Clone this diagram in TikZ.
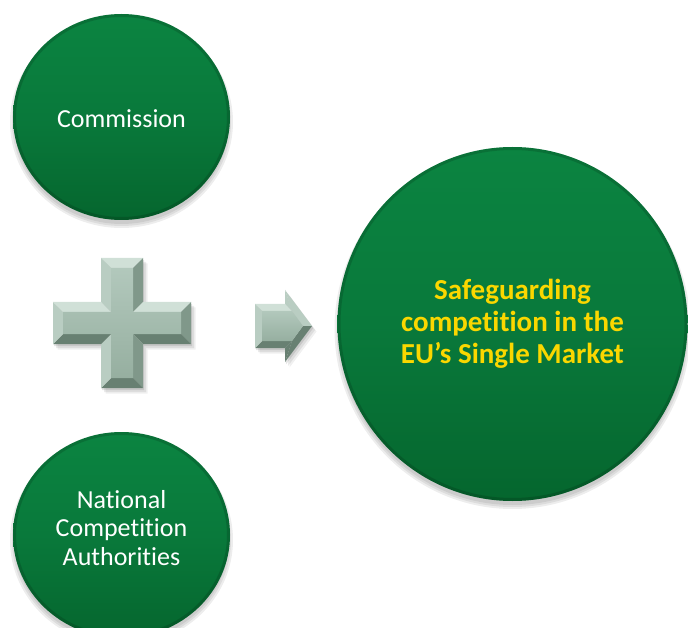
\documentclass[tikz,border=0pt]{standalone}
\usepackage{fontspec}
\setmainfont{Carlito}[Ligatures=NoCommon]
\usetikzlibrary{shapes.geometric}

\definecolor{greentop}{RGB}{11,132,65}
\definecolor{greenmid}{RGB}{9,121,59}
\definecolor{greenbot}{RGB}{5,102,46}
\definecolor{goldtext}{RGB}{250,215,0}
\definecolor{bevfacetop}{RGB}{178,200,188}
\definecolor{bevfacebot}{RGB}{150,175,160}
\definecolor{bevlight}{RGB}{208,224,215}
\definecolor{bevmlight}{RGB}{185,205,194}
\definecolor{bevmdark}{RGB}{128,152,138}
\definecolor{bevdark}{RGB}{104,128,114}

\tikzset{
  disc/.style={ellipse, inner sep=0pt, draw=none,
    top color=greentop, bottom color=greenbot, middle color=greenmid,
    align=center},
  smalldisc/.style={disc, minimum width=217pt, minimum height=206pt},
  bigdisc/.style={disc, minimum width=350pt, minimum height=354pt,
    text=goldtext, font=\bfseries\fontsize{29}{32}\selectfont},
  disclabel/.style={align=center, inner sep=0pt, text=white,
    font=\fontsize{26}{28.5}\selectfont},
  rim/.style={draw=black, opacity=0.14, line width=3pt},
  dropshade/.style={fill=black, opacity=0.07},
  facetlight/.style={fill=bevlight},
  facetmlight/.style={fill=bevmlight},
  facetmdark/.style={fill=bevmdark},
  facetdark/.style={fill=bevdark},
  flatface/.style={top color=bevfacetop, bottom color=bevfacebot},
}

\begin{document}
\begin{tikzpicture}[x=1pt,y=-1pt]
\useasboundingbox (0,0) rectangle (688,628);

% soft shadows under the three discs
\foreach \cx/\cy/\rx/\ry in {121.5/117/108.5/103, 121.5/535/108.5/103, 512.5/324/175/177}{
  \foreach \d in {0,2,4}{
    \fill[dropshade] (\cx,\cy+5) ellipse [x radius=\rx+\d-1, y radius=\ry+\d-1];
  }
}

% discs
\node[smalldisc] (comm) at (121.5,117) {};
\node[smalldisc] (nca) at (121.5,535) {};
\node[bigdisc] (goal) at (512.5,324) {Safeguarding\\competition in the\\EU’s Single Market};

% bevelled rims
\draw[rim] (comm.center) ellipse [x radius=107, y radius=101.5];
\draw[rim] (nca.center) ellipse [x radius=107, y radius=101.5];
\draw[rim] (goal.center) ellipse [x radius=173.5, y radius=175.5];

% disc labels
\node[disclabel] (commlabel) at ([yshift=-2pt]comm.center) {Commission};
\node[disclabel] (ncalabel) at ([yshift=7pt]nca.center) {National\\Competition\\Authorities};

% bevelled plus sign
\begin{scope}[shift={(122,323)}]
  \def\w{21}\def\H{65}\def\L{69}\def\b{10}
  \foreach \s/\o in {1.2/0.10, 3/0.08, 4.5/0.06}{
    \fill[black, opacity=\o, shift={(\s,\s+1)}]
      (-\w,-\H) -- (\w,-\H) -- (\w,-\w) -- (\L,-\w) -- (\L,\w) -- (\w,\w)
      -- (\w,\H) -- (-\w,\H) -- (-\w,\w) -- (-\L,\w) -- (-\L,-\w) -- (-\w,-\w) -- cycle;
  }
  \coordinate (o1) at (-\w,-\H);  \coordinate (i1) at (-\w+\b,-\H+\b);
  \coordinate (o2) at (\w,-\H);   \coordinate (i2) at (\w-\b,-\H+\b);
  \coordinate (o3) at (\w,-\w);   \coordinate (i3) at (\w-\b,-\w+\b);
  \coordinate (o4) at (\L,-\w);   \coordinate (i4) at (\L-\b,-\w+\b);
  \coordinate (o5) at (\L,\w);    \coordinate (i5) at (\L-\b,\w-\b);
  \coordinate (o6) at (\w,\w);    \coordinate (i6) at (\w-\b,\w-\b);
  \coordinate (o7) at (\w,\H);    \coordinate (i7) at (\w-\b,\H-\b);
  \coordinate (o8) at (-\w,\H);   \coordinate (i8) at (-\w+\b,\H-\b);
  \coordinate (o9) at (-\w,\w);   \coordinate (i9) at (-\w+\b,\w-\b);
  \coordinate (o10) at (-\L,\w);  \coordinate (i10) at (-\L+\b,\w-\b);
  \coordinate (o11) at (-\L,-\w); \coordinate (i11) at (-\L+\b,-\w+\b);
  \coordinate (o12) at (-\w,-\w); \coordinate (i12) at (-\w+\b,-\w+\b);
  \foreach \p/\q/\st in {1/2/facetlight, 2/3/facetmdark, 3/4/facetlight,
      4/5/facetmdark, 5/6/facetdark, 6/7/facetmdark, 7/8/facetdark,
      8/9/facetmlight, 9/10/facetdark, 10/11/facetmlight, 11/12/facetlight,
      12/1/facetmlight}{
    \fill[\st] (o\p) -- (o\q) -- (i\q) -- (i\p) -- cycle;
  }
  \shade[flatface] (i1) -- (i2) -- (i3) -- (i4) -- (i5) -- (i6) -- (i7)
    -- (i8) -- (i9) -- (i10) -- (i11) -- (i12) -- cycle;
\end{scope}

% bevelled block arrow
\foreach \s/\o in {1.2/0.10, 3/0.08, 4.5/0.06}{
  \fill[black, opacity=\o, shift={(\s,\s+1)}]
    (255,304) -- (285,304) -- (285,290) -- (312,326) -- (285,362)
    -- (285,348) -- (255,348) -- cycle;
}
\coordinate (a1) at (255,304); \coordinate (b1) at (262,311);
\coordinate (a2) at (285,304); \coordinate (b2) at (292,311);
\coordinate (a3) at (285,290); \coordinate (b3) at (292,311);
\coordinate (a4) at (312,326); \coordinate (b4) at (303,326);
\coordinate (a5) at (285,362); \coordinate (b5) at (292,341);
\coordinate (a6) at (285,348); \coordinate (b6) at (292,341);
\coordinate (a7) at (255,348); \coordinate (b7) at (262,341);
\foreach \p/\q/\st in {1/2/facetlight, 2/3/facetmlight, 3/4/facetmlight,
    4/5/facetdark, 5/6/facetdark, 6/7/facetdark, 7/1/facetmlight}{
  \fill[\st] (a\p) -- (a\q) -- (b\q) -- (b\p) -- cycle;
}
\shade[flatface] (b1) -- (b2) -- (b4) -- (b6) -- (b7) -- cycle;

\end{tikzpicture}
\end{document}
